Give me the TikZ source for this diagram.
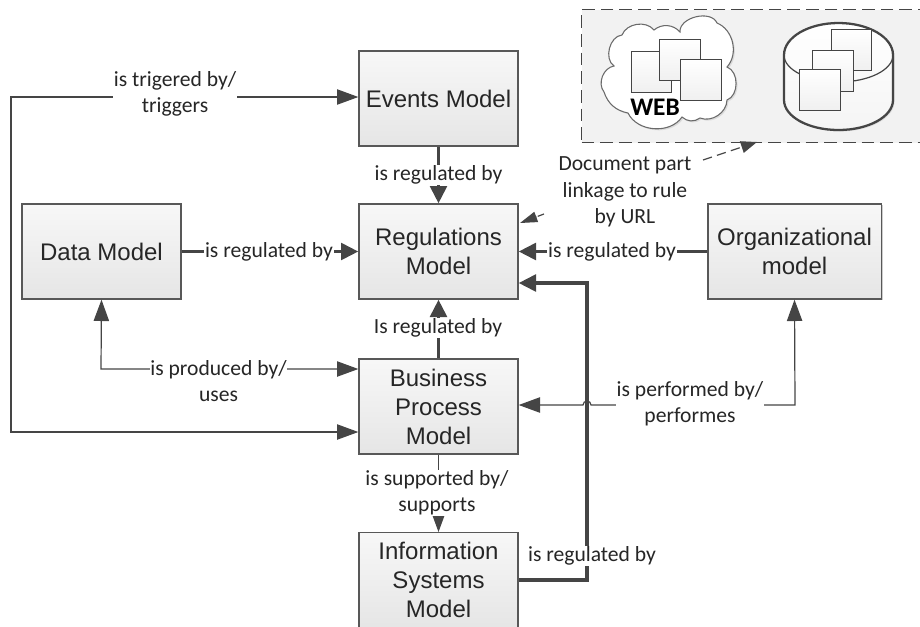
\documentclass[tikz,border=0pt]{standalone}
\usepackage{fontspec}
\setmainfont{Liberation Sans}
\newfontfamily\lblfont{Carlito}
\usetikzlibrary{arrows.meta,shadows}
\definecolor{ln}{HTML}{454545}
\tikzset{
 x=0.75pt,y=-0.75pt,
 modelbox/.style={draw=ln!90,line width=1pt,minimum width=119.25pt,minimum height=71.25pt,inner sep=0pt,align=center,
   top color=gray!6,bottom color=gray!20,font=\fontsize{18}{21.8}\selectfont,text=black!85,
   general shadow={fill=black!20,shadow xshift=1pt,shadow yshift=-1pt}},
 doc/.style={draw=ln,line width=0.8pt,minimum size=30.5pt,inner sep=0pt,top color=white,bottom color=gray!12},
 lbl/.style={font=\lblfont\fontsize{16.2}{19.8}\selectfont,text=black!85,align=center,inner sep=0.5pt,fill=white},
 thintip/.style={-{Triangle[length=16pt,width=11.5pt]}},
 bothtip/.style={{Triangle[length=16pt,width=11.5pt]}-{Triangle[length=16pt,width=11.5pt]}},
 thicktip/.style={-{Triangle[length=13pt,width=12.5pt]}},
 thinline/.style={draw=ln,line width=0.9pt},
 thickline/.style={draw=ln,line width=2.6pt},
}
\begin{document}
\begin{tikzpicture}
\useasboundingbox (0,0) rectangle (920,626);
\clip (0,0) rectangle (920,626);
% dashed panel
\node[draw=ln,dash pattern=on 9.5pt off 4.5pt,line width=0.9pt,fill=gray!10,minimum width=270pt,minimum height=99.75pt,anchor=north west,inner sep=0pt] (panel) at (581,9) {};
% cloud
\fill[black!14,shift={(1.5,1.5)}] (614,66) to[bend left=70] (622,35) to[bend left=60] (654,30) to[bend left=45] (680,32) to[bend left=80] (717,23) to[bend left=55] (727,67) to[bend left=70] (727,100) to[bend left=55] (700,118) to[bend left=40] (682,117) to[bend left=60] (628,113) to[bend left=30] (604,92) to[bend left=60] (614,66) -- cycle;
\draw[ln!80,line width=0.8pt,fill=white] (614,66) to[bend left=70] (622,35) to[bend left=60] (654,30) to[bend left=45] (680,32) to[bend left=80] (717,23) to[bend left=55] (727,67) to[bend left=70] (727,100) to[bend left=55] (700,118) to[bend left=40] (682,117) to[bend left=60] (628,113) to[bend left=30] (604,92) to[bend left=60] (614,66) -- cycle;
\node[doc] (w1) at (651.5,72) {};
\node[doc] (w2) at (680,60) {};
\node[doc] (w3) at (701,80) {};
\node[font=\lblfont\bfseries\fontsize{19}{19}\selectfont,inner sep=0pt,text=black] (web) at (655,107) {WEB};
% cylinder
\fill[black!14,shift={(1.5,1.5)}] (784,55) -- (784,100) arc[start angle=180,end angle=0,x radius=54.5,y radius=30] -- (893,55) arc[start angle=0,end angle=-180,x radius=54.5,y radius=32] -- cycle;
\path[top color=white,bottom color=gray!8] (784,55) -- (784,100) arc[start angle=180,end angle=0,x radius=54.5,y radius=30] -- (893,55) arc[start angle=0,end angle=-180,x radius=54.5,y radius=32] -- cycle;
\draw[ln,line width=0.9pt] (784,55) arc[start angle=180,end angle=0,x radius=54.5,y radius=27];
\draw[ln,line width=1.7pt] (784,55) -- (784,100) arc[start angle=180,end angle=0,x radius=54.5,y radius=30] -- (893,55) arc[start angle=0,end angle=-180,x radius=54.5,y radius=32] -- cycle;
\node[doc] (c1) at (851.5,50) {};
\node[doc] (c2) at (833,71) {};
\node[doc] (c3) at (820,90) {};
% boxes
\node[modelbox] (events) at (438.5,98.5) {Events Model};
\node[modelbox] (regs) at (438.5,251.5) {Regulations\\Model};
\node[modelbox] (data) at (101.5,251.5) {Data Model};
\node[modelbox,minimum width=130pt] (org) at (794.5,251.5) {Organizational\\model};
\node[modelbox] (bp) at (438.5,406.5) {Business\\Process\\Model};
\node[modelbox,anchor=north] (is) at (438.5,532) {Information\\Systems\\Model};
% thick links
\draw[thickline,thicktip] (events.south) -- (regs.north);
\node[lbl] (l1) at (438.5,175) {is regulated by};
\draw[thickline,thicktip] (data.east) -- (regs.west);
\node[lbl] (l2) at (269,252) {is regulated by};
\draw[thickline,thicktip] (org.west) -- (regs.east);
\node[lbl] (l3) at (612,252) {is regulated by};
\draw[thickline,thicktip] (bp.north) -- (regs.south);
\node[lbl] (l4) at (438,328) {Is regulated by};
\coordinate (isR) at (is.east|-0,580);
\coordinate (regR) at (regs.east|-0,283);
\coordinate (upA) at (587,580);
\coordinate (upB) at (587,283);
\draw[thickline,thicktip] (isR) -- (upA) -- (upB) -- (regR);
\node[lbl] (lis) at (592,556) {is regulated by};
% thin links
\coordinate (trigE) at (events.west|-0,97);
\coordinate (trigB) at (bp.west|-0,432);
\coordinate (trigA) at (11,97);
\coordinate (trigC) at (11,432);
\draw[thinline,bothtip] (trigB) -- (trigC) -- (trigA) -- (trigE);
\node[lbl] (ltrig) at (175,94) {is trigered by/\\triggers};
\coordinate (dC) at (101,369);
\coordinate (dB) at (bp.west|-0,369);
\draw[thinline,bothtip] (data.south) -- (dC) -- (dB);
\node[lbl] (lprod) at (218.5,381) {is produced by/\\uses};
\coordinate (oC) at (795,405);
\coordinate (hopR) at (591,405);
\draw[thinline,bothtip] (org.south) -- (oC) -- (hopR) arc[start angle=0,end angle=-180,radius=4] -- (bp.east|-0,405);
\node[lbl] (lperf) at (690,403.5) {is performed by/\\performes};
\draw[thinline,thintip] (bp.south) -- (is.north);
\node[lbl] (lsup) at (437,493) {is supported by/\\supports};
% doc labels
\node[lbl,fill=none] (ldoc) at (625,192) {Document part\\linkage to rule\\by URL};
\coordinate (dT) at (757,142);
\draw[ln,line width=0.9pt,dash pattern=on 7pt off 4pt,-{Triangle[length=12pt,width=9pt]}] (703,160) -- (dT);
\coordinate (dA) at (544,214);
\coordinate (dB2) at (520,223);
\draw[ln,line width=0.9pt,dash pattern=on 5pt off 1pt,-{Triangle[length=13pt,width=8pt]}] (dA) -- (dB2);
\end{tikzpicture}
\end{document}
